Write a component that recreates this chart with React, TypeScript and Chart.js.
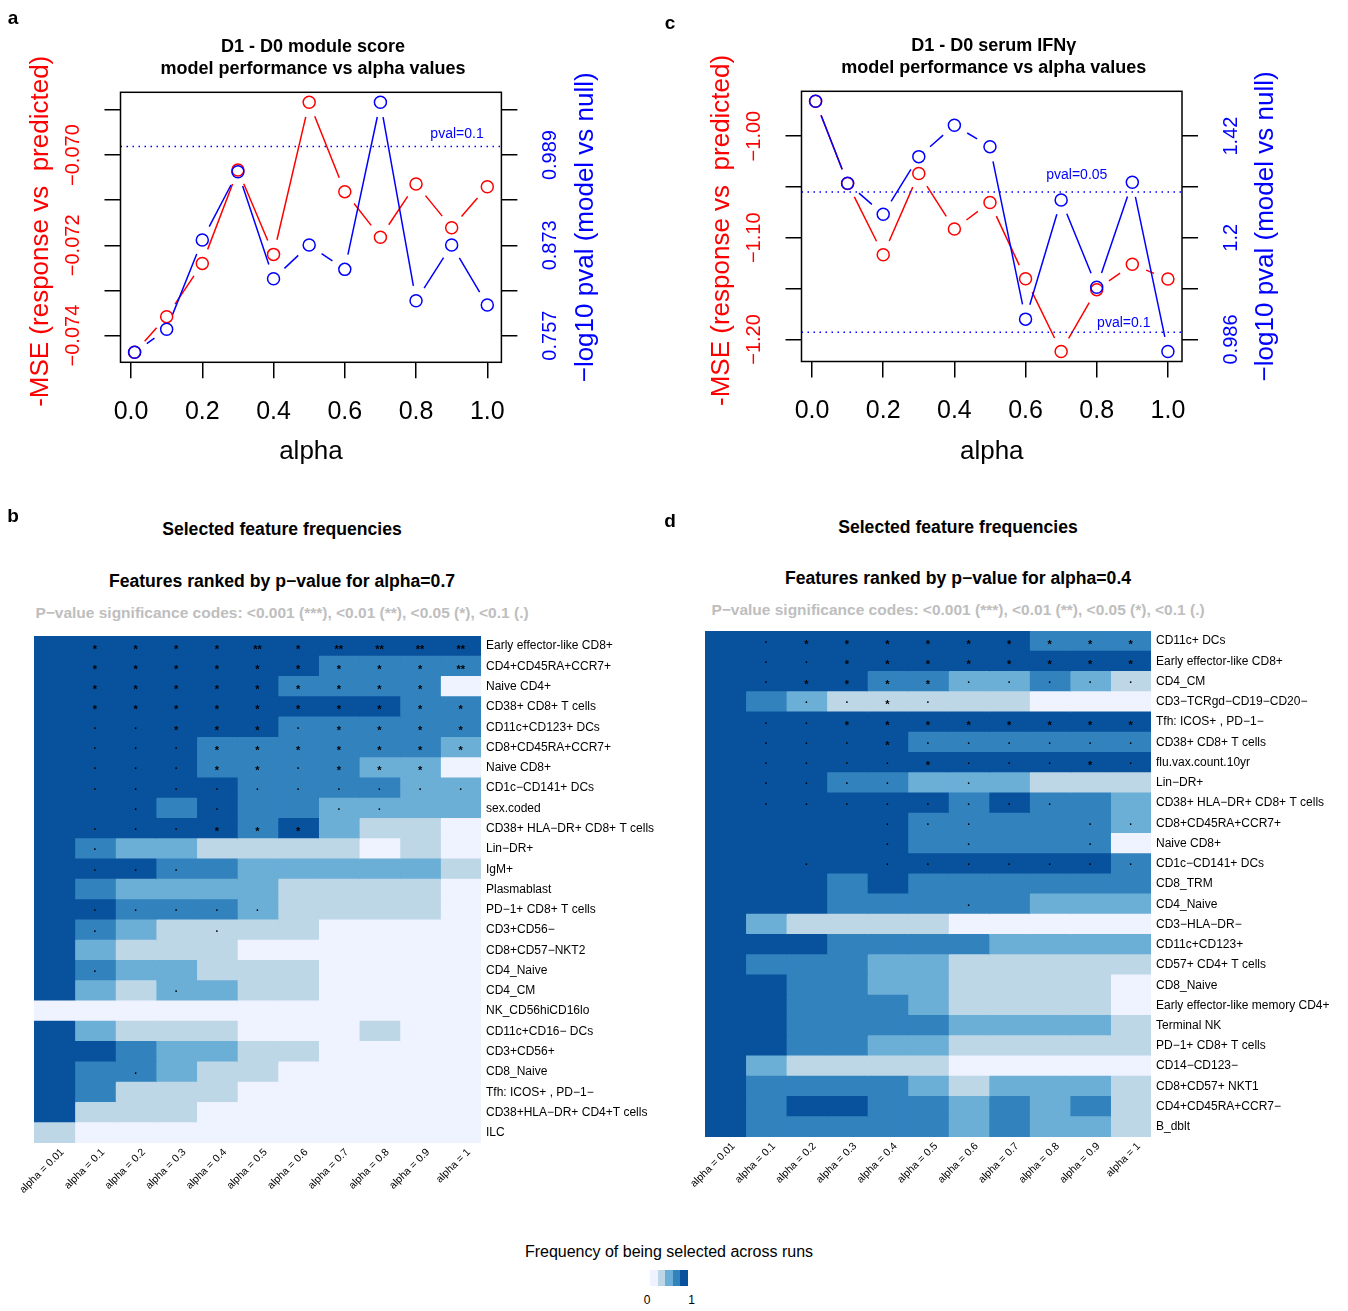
import React, { useEffect, useRef } from "react";
import { Chart, registerables } from "chart.js";
Chart.register(...registerables);

const FONT = "'Liberation Sans', Arial, Helvetica, sans-serif";
const RED = "#FF0000";
const BLUE = "#0000FF";

// ---------- line panels (a, c) ----------
const alphaValues = [0.01, 0.1, 0.2, 0.3, 0.4, 0.5, 0.6, 0.7, 0.8, 0.9, 1.0];
const xTickValues = [0, 0.2, 0.4, 0.6, 0.8, 1.0];

const aMse = [-0.07437, -0.07358, -0.0724, -0.07033, -0.0722, -0.06883, -0.07081, -0.07182, -0.07064, -0.07161, -0.0707];
const aLogP = [0.7357, 0.7652, 0.8799, 0.9676, 0.8302, 0.8734, 0.8422, 1.0567, 0.8019, 0.8734, 0.7964];
const aLeftTicks = [-0.074, -0.073, -0.072, -0.071, -0.07, -0.069];
const aLeftLabels = ["−0.074", "", "−0.072", "", "−0.070", ""];
const aRightLabels = ["0.757", "", "0.873", "", "0.989", ""];
const aPvals = [0.1];
const aPvalTexts = ["pval=0.1"];

const cMse = [-0.9658, -1.0466, -1.1166, -1.0367, -1.0913, -1.0653, -1.1402, -1.2118, -1.151, -1.1261, -1.1406];
const cLogP = [1.4956, 1.3198, 1.2534, 1.3769, 1.4442, 1.3983, 1.0282, 1.284, 1.0968, 1.322, 0.9588];
const cLeftTicks = [-1.2, -1.15, -1.1, -1.05, -1.0];
const cLeftLabels = ["−1.20", "", "−1.10", "", "−1.00"];
const cRightLabels = ["0.986", "", "1.2", "", "1.42"];
const cPvals = [0.1, 0.05];
const cPvalTexts = ["pval=0.1", "pval=0.05"];

// ---------- heatmaps (b, d) ----------
const palette = ["#EFF3FF", "#BDD7E7", "#6BAED6", "#3182BD", "#08519C"];
const alphaLabels = ["alpha = 0.01", "alpha = 0.1", "alpha = 0.2", "alpha = 0.3", "alpha = 0.4", "alpha = 0.5", "alpha = 0.6", "alpha = 0.7", "alpha = 0.8", "alpha = 0.9", "alpha = 1"];

const bRows = ["Early effector-like CD8+", "CD4+CD45RA+CCR7+", "Naive CD4+", "CD38+ CD8+ T cells", "CD11c+CD123+ DCs", "CD8+CD45RA+CCR7+", "Naive CD8+", "CD1c−CD141+ DCs", "sex.coded", "CD38+ HLA−DR+ CD8+ T cells", "Lin−DR+", "IgM+", "Plasmablast", "PD−1+ CD8+ T cells", "CD3+CD56−", "CD8+CD57−NKT2", "CD4_Naive", "CD4_CM", "NK_CD56hiCD16lo", "CD11c+CD16− DCs", "CD3+CD56+", "CD8_Naive", "Tfh: ICOS+ , PD−1−", "CD38+HLA−DR+ CD4+T cells", "ILC"];
const bLevels = [
  [4, 4, 4, 4, 4, 4, 4, 4, 4, 4, 4],
  [4, 4, 4, 4, 4, 4, 4, 3, 3, 3, 3],
  [4, 4, 4, 4, 4, 4, 3, 3, 3, 3, 0],
  [4, 4, 4, 4, 4, 4, 4, 4, 4, 3, 3],
  [4, 4, 4, 4, 4, 4, 3, 3, 3, 3, 3],
  [4, 4, 4, 4, 3, 3, 3, 3, 3, 3, 2],
  [4, 4, 4, 4, 3, 3, 3, 3, 2, 2, 0],
  [4, 4, 4, 4, 4, 3, 3, 3, 3, 2, 2],
  [4, 4, 4, 3, 4, 3, 3, 2, 2, 2, 2],
  [4, 4, 4, 4, 4, 3, 4, 2, 1, 1, 0],
  [4, 3, 2, 2, 1, 1, 1, 1, 0, 1, 0],
  [4, 4, 4, 3, 3, 2, 2, 2, 2, 2, 1],
  [4, 3, 2, 2, 2, 2, 1, 1, 1, 1, 0],
  [4, 4, 3, 3, 3, 2, 1, 1, 1, 1, 0],
  [4, 3, 2, 1, 1, 1, 1, 0, 0, 0, 0],
  [4, 2, 1, 1, 1, 0, 0, 0, 0, 0, 0],
  [4, 3, 2, 2, 1, 1, 1, 0, 0, 0, 0],
  [4, 2, 1, 2, 2, 1, 1, 0, 0, 0, 0],
  [0, 0, 0, 0, 0, 0, 0, 0, 0, 0, 0],
  [4, 2, 1, 1, 1, 0, 0, 0, 1, 0, 0],
  [4, 4, 3, 2, 2, 1, 1, 0, 0, 0, 0],
  [4, 3, 3, 2, 1, 1, 0, 0, 0, 0, 0],
  [4, 3, 1, 1, 1, 0, 0, 0, 0, 0, 0],
  [4, 1, 1, 1, 0, 0, 0, 0, 0, 0, 0],
  [1, 0, 0, 0, 0, 0, 0, 0, 0, 0, 0],
];
const bMarks = [
  "_ * * * * ** * ** ** ** **",
  "_ * * * * * * * * * **",
  "_ * * * * * * * * * _",
  "_ * * * * * * * * * *",
  "_ . . * * * . * * * *",
  "_ . . . * * * * * * *",
  "_ . . . * * . * * * _",
  "_ . . . . . . . . . .",
  "_ _ . _ . _ _ . . _ _",
  "_ . . . * * * _ _ _ _",
  "_ . _ _ _ _ _ _ _ _ _",
  "_ . . . _ _ _ _ _ _ _",
  "_ _ _ _ _ _ _ _ _ _ _",
  "_ . . . . . _ _ _ _ _",
  "_ . _ _ . _ _ _ _ _ _",
  "_ _ _ _ _ _ _ _ _ _ _",
  "_ . _ _ _ _ _ _ _ _ _",
  "_ _ _ . _ _ _ _ _ _ _",
  "_ _ _ _ _ _ _ _ _ _ _",
  "_ _ _ _ _ _ _ _ _ _ _",
  "_ _ _ _ _ _ _ _ _ _ _",
  "_ _ . _ _ _ _ _ _ _ _",
  "_ _ _ _ _ _ _ _ _ _ _",
  "_ _ _ _ _ _ _ _ _ _ _",
  "_ _ _ _ _ _ _ _ _ _ _",
];

const dRows = ["CD11c+ DCs", "Early effector-like CD8+", "CD4_CM", "CD3−TCRgd−CD19−CD20−", "Tfh: ICOS+ , PD−1−", "CD38+ CD8+ T cells", "flu.vax.count.10yr", "Lin−DR+", "CD38+ HLA−DR+ CD8+ T cells", "CD8+CD45RA+CCR7+", "Naive CD8+", "CD1c−CD141+ DCs", "CD8_TRM", "CD4_Naive", "CD3−HLA−DR−", "CD11c+CD123+", "CD57+ CD4+ T cells", "CD8_Naive", "Early effector-like memory CD4+", "Terminal NK", "PD−1+ CD8+ T cells", "CD14−CD123−", "CD8+CD57+ NKT1", "CD4+CD45RA+CCR7−", "B_dblt"];
const dLevels = [
  [4, 4, 4, 4, 4, 4, 4, 4, 3, 3, 3],
  [4, 4, 4, 4, 4, 4, 4, 4, 4, 4, 4],
  [4, 4, 4, 4, 3, 3, 2, 2, 3, 2, 1],
  [4, 3, 2, 1, 1, 1, 1, 1, 0, 0, 0],
  [4, 4, 4, 4, 4, 4, 4, 4, 4, 4, 4],
  [4, 4, 4, 4, 4, 3, 3, 3, 3, 3, 3],
  [4, 4, 4, 4, 4, 4, 4, 4, 4, 4, 4],
  [4, 4, 4, 3, 3, 2, 2, 2, 1, 1, 1],
  [4, 4, 4, 4, 4, 4, 3, 4, 3, 3, 2],
  [4, 4, 4, 4, 4, 3, 3, 3, 3, 3, 2],
  [4, 4, 4, 4, 4, 3, 3, 3, 3, 3, 0],
  [4, 4, 4, 4, 4, 4, 4, 4, 4, 4, 3],
  [4, 4, 4, 3, 4, 3, 3, 3, 3, 3, 3],
  [4, 4, 4, 3, 3, 3, 3, 3, 2, 2, 2],
  [4, 2, 1, 1, 1, 1, 0, 0, 0, 0, 0],
  [4, 4, 4, 3, 3, 3, 3, 2, 2, 2, 2],
  [4, 3, 3, 3, 2, 2, 1, 1, 1, 1, 1],
  [4, 4, 3, 3, 2, 2, 1, 1, 1, 1, 0],
  [4, 4, 3, 3, 3, 2, 1, 1, 1, 1, 0],
  [4, 4, 3, 3, 3, 3, 2, 2, 2, 2, 1],
  [4, 4, 3, 3, 2, 2, 1, 1, 1, 1, 1],
  [4, 2, 1, 1, 1, 1, 0, 0, 0, 0, 0],
  [4, 3, 3, 3, 3, 2, 1, 2, 2, 2, 1],
  [4, 3, 4, 4, 3, 3, 2, 3, 2, 3, 1],
  [4, 3, 3, 3, 3, 3, 2, 3, 2, 2, 1],
];
const dMarks = [
  "_ . * * * * * * * * *",
  "_ . . * * * * * * * *",
  "_ . * * * * . . . . .",
  "_ _ . . * . _ _ _ _ _",
  "_ . . * * * * * * * *",
  "_ . . . * . . . . . .",
  "_ . . . . * . . . * .",
  "_ . . . . _ . _ _ _ _",
  "_ . . . . . . . . _ _",
  "_ _ _ _ . . . _ _ . .",
  "_ _ _ _ . _ . _ _ . _",
  "_ _ . _ . . . . . . .",
  "_ _ _ _ _ _ _ _ _ _ _",
  "_ _ _ _ _ _ . _ _ _ _",
  "_ _ _ _ _ _ _ _ _ _ _",
  "_ _ _ _ _ _ _ _ _ _ _",
  "_ _ _ _ _ _ _ _ _ _ _",
  "_ _ _ _ _ _ _ _ _ _ _",
  "_ _ _ _ _ _ _ _ _ _ _",
  "_ _ _ _ _ _ _ _ _ _ _",
  "_ _ _ _ _ _ _ _ _ _ _",
  "_ _ _ _ _ _ _ _ _ _ _",
  "_ _ _ _ _ _ _ _ _ _ _",
  "_ _ _ _ _ _ _ _ _ _ _",
  "_ _ _ _ _ _ _ _ _ _ _",
];

const legendLabels = ["0", "1"];

// ---------- helpers ----------
function rRange(vals: number[]): [number, number] {
  const mn = Math.min(...vals);
  const mx = Math.max(...vals);
  const d = (mx - mn) * 0.04;
  return [mn - d, mx + d];
}
function parseMarks(s: string): string[] {
  return s.split(" ").map((t) => (t === "_" ? "" : t));
}

const GAP = 15; // R type="b": line segments stop short of the symbols

// draws the connecting segments of datasets flagged gapLine, using the
// element positions computed by Chart.js from the scales (last dataset first)
const gapLinesPlugin = {
  id: "gapLines",
  beforeDatasetsDraw(chart: any) {
    const ctx = chart.ctx;
    ctx.save();
    const sets = chart.data.datasets;
    for (let i = sets.length - 1; i >= 0; i--) {
      const ds = sets[i];
      if (!ds.gapLine) continue;
      const pts = chart.getDatasetMeta(i).data;
      ctx.strokeStyle = ds.borderColor;
      ctx.lineWidth = ds.borderWidth;
      ctx.beginPath();
      for (let j = 0; j < pts.length - 1; j++) {
        const p = pts[j];
        const q = pts[j + 1];
        const dx = q.x - p.x;
        const dy = q.y - p.y;
        const d = Math.hypot(dx, dy);
        if (d <= 2 * GAP) continue;
        const ux = dx / d;
        const uy = dy / d;
        ctx.moveTo(p.x + ux * GAP, p.y + uy * GAP);
        ctx.lineTo(q.x - ux * GAP, q.y - uy * GAP);
      }
      ctx.stroke();
    }
    ctx.restore();
  },
};

type LineSpec = {
  width: number;
  height: number;
  area: { left: number; top: number; right: number; bottom: number };
  title: [string, string];
  mse: number[];
  logp: number[];
  leftTicks: number[];
  leftLabels: string[];
  rightLabels: string[];
  pvals: number[];
  pvalTexts: string[];
  pvalTextPos: { x: number; dy: number }[];
};

function makeLineChart(canvas: HTMLCanvasElement, s: LineSpec) {
  const xr = rRange(alphaValues);
  const lr = rRange(s.mse);
  const rr = rRange(s.logp);
  const tickGrid = { display: true, drawOnChartArea: false, drawTicks: true, tickLength: 16, color: "#000", lineWidth: 1.5 };
  const decor = {
    id: "decor",
    afterDraw(chart: any) {
      const { ctx, chartArea: a, scales } = chart;
      const ys = scales.y;
      ctx.save();
      ctx.strokeStyle = "#000";
      ctx.lineWidth = 1.5;
      ctx.strokeRect(a.left, a.top, a.right - a.left, a.bottom - a.top);
      const cx = (a.left + a.right) / 2;
      const cy = (a.top + a.bottom) / 2;
      ctx.fillStyle = "#000";
      ctx.textAlign = "center";
      ctx.textBaseline = "middle";
      ctx.font = `bold 18px ${FONT}`;
      ctx.fillText(s.title[0], cx + 2, a.top - 45.5);
      ctx.fillText(s.title[1], cx + 2, a.top - 23.5);
      ctx.font = `26px ${FONT}`;
      ctx.fillText("alpha", cx, a.bottom + 90);
      const rot = (text: string, x: number, y: number, font: string, color: string) => {
        ctx.save();
        ctx.translate(x, y);
        ctx.rotate(-Math.PI / 2);
        ctx.font = font;
        ctx.fillStyle = color;
        ctx.textAlign = "center";
        ctx.textBaseline = "middle";
        ctx.fillText(text, 0, 0);
        ctx.restore();
      };
      s.leftTicks.forEach((v, i) => {
        const y = ys.getPixelForValue(v);
        if (s.leftLabels[i]) rot(s.leftLabels[i], a.left - 47, y, `20px ${FONT}`, RED);
        if (s.rightLabels[i]) rot(s.rightLabels[i], a.right + 49, y, `20px ${FONT}`, BLUE);
      });
      rot("-MSE (response vs  predicted)", a.left - 80, cy + 4, `26px ${FONT}`, RED);
      rot("−log10 pval (model vs null)", a.right + 84, cy, `26px ${FONT}`, BLUE);
      ctx.font = `14px ${FONT}`;
      ctx.fillStyle = BLUE;
      s.pvals.forEach((p, i) => {
        const pos = s.pvalTextPos[i];
        const x = scales.x.getPixelForValue(pos.x);
        const y = scales.y1.getPixelForValue(-Math.log10(p)) + pos.dy;
        ctx.fillText(s.pvalTexts[i], x, y);
      });
      ctx.restore();
    },
  };
  const pvalSets = s.pvals.map((p) => ({
    type: "line" as const,
    data: [
      { x: xr[0], y: -Math.log10(p) },
      { x: xr[1], y: -Math.log10(p) },
    ],
    yAxisID: "y1",
    borderColor: BLUE,
    borderWidth: 1.5,
    borderDash: [1.5, 4.5],
    pointRadius: 0,
    fill: false,
  }));
  return new Chart(canvas, {
    type: "scatter",
    data: {
      datasets: [
        {
          data: alphaValues.map((x, i) => ({ x, y: s.logp[i] })),
          yAxisID: "y1",
          showLine: false,
          gapLine: true,
          borderColor: BLUE,
          borderWidth: 1.5,
          pointRadius: 6,
          pointBorderWidth: 1.5,
          pointBorderColor: BLUE,
          pointBackgroundColor: "rgba(0,0,0,0)",
        },
        {
          data: alphaValues.map((x, i) => ({ x, y: s.mse[i] })),
          yAxisID: "y",
          showLine: false,
          gapLine: true,
          borderColor: RED,
          borderWidth: 1.5,
          pointRadius: 6,
          pointBorderWidth: 1.5,
          pointBorderColor: RED,
          pointBackgroundColor: "rgba(0,0,0,0)",
        },
        ...pvalSets,
      ] as any,
    },
    options: {
      animation: false,
      responsive: false,
      devicePixelRatio: 1,
      layout: {
        padding: {
          left: s.area.left - 16,
          right: s.width - s.area.right - 16,
          top: s.area.top,
          bottom: s.height - s.area.bottom - 70,
        },
      },
      plugins: { legend: { display: false }, tooltip: { enabled: false } },
      scales: {
        x: {
          type: "linear",
          position: "bottom",
          min: xr[0],
          max: xr[1],
          afterBuildTicks: (sc: any) => {
            sc.ticks = xTickValues.map((v) => ({ value: v }));
          },
          afterFit: (sc: any) => {
            sc.height = 70;
            sc.paddingLeft = 0;
            sc.paddingRight = 0;
          },
          grid: tickGrid,
          border: { display: false },
          ticks: {
            autoSkip: false,
            maxRotation: 0,
            minRotation: 0,
            padding: 19,
            color: "#000",
            font: { family: FONT, size: 25 },
            callback: (v: any) => Number(v).toFixed(1),
          },
        },
        y: {
          type: "linear",
          position: "left",
          min: lr[0],
          max: lr[1],
          afterBuildTicks: (sc: any) => {
            sc.ticks = s.leftTicks.map((v) => ({ value: v }));
          },
          afterFit: (sc: any) => {
            sc.width = 16;
            sc.paddingTop = 0;
            sc.paddingBottom = 0;
          },
          grid: tickGrid,
          border: { display: false },
          ticks: { display: false },
        },
        y1: {
          type: "linear",
          position: "right",
          min: rr[0],
          max: rr[1],
          afterBuildTicks: (sc: any) => {
            sc.ticks = s.leftTicks.map((v) => ({
              value: rr[0] + ((v - lr[0]) / (lr[1] - lr[0])) * (rr[1] - rr[0]),
            }));
          },
          afterFit: (sc: any) => {
            sc.width = 16;
            sc.paddingTop = 0;
            sc.paddingBottom = 0;
          },
          grid: tickGrid,
          border: { display: false },
          ticks: { display: false },
        },
      },
    } as any,
    plugins: [gapLinesPlugin, decor],
  });
}

type HeatSpec = {
  width: number;
  height: number;
  padLeft: number;
  areaW: number;
  areaH: number;
  rows: string[];
  levels: number[][];
  marks: string[];
};

function makeHeatmap(canvas: HTMLCanvasElement, s: HeatSpec) {
  const marks = s.marks.map(parseMarks);
  const shift = 0.2;
  const markPlugin = {
    id: "marks",
    afterDatasetsDraw(chart: any) {
      const { ctx, scales } = chart;
      ctx.save();
      ctx.fillStyle = "#000";
      ctx.textAlign = "center";
      ctx.textBaseline = "alphabetic";
      marks.forEach((row, r) =>
        row.forEach((m, c) => {
          if (!m) return;
          const x = scales.x.getPixelForValue(c + 0.5);
          const y = scales.y.getPixelForValue(r);
          if (m === ".") {
            ctx.font = `bold 10px ${FONT}`;
            ctx.fillText(m, x, y + 1.5);
          } else {
            ctx.font = `bold 11px ${FONT}`;
            ctx.fillText(m, x, y + 6.5);
          }
        })
      );
      ctx.restore();
    },
  };
  return new Chart(canvas, {
    type: "bar",
    data: {
      labels: s.rows,
      datasets: alphaLabels.map((lab, c) => ({
        label: lab,
        data: s.rows.map(() => [c, c + 1]),
        backgroundColor: s.rows.map((_, r) => palette[s.levels[r][c]]),
        borderWidth: 0,
        barPercentage: 1,
        categoryPercentage: 1,
        grouped: false,
        inflateAmount: 0.5,
      })) as any,
    },
    options: {
      indexAxis: "y",
      animation: false,
      responsive: false,
      devicePixelRatio: 1,
      layout: { padding: { left: s.padLeft, top: 0, right: 0, bottom: 0 } },
      plugins: { legend: { display: false }, tooltip: { enabled: false } },
      scales: {
        x: {
          type: "linear",
          position: "bottom",
          min: 0,
          max: alphaLabels.length,
          afterBuildTicks: (sc: any) => {
            sc.ticks = alphaLabels.map((_, c) => ({ value: c + 0.5 + shift }));
          },
          afterFit: (sc: any) => {
            sc.height = s.height - s.areaH;
            sc.paddingLeft = 0;
            sc.paddingRight = 0;
          },
          grid: { display: false, drawTicks: false },
          border: { display: false },
          ticks: {
            autoSkip: false,
            minRotation: 45,
            maxRotation: 45,
            padding: 3,
            color: "#000",
            font: { family: FONT, size: 10.5 },
            callback: (v: any) => alphaLabels[Math.floor(Number(v))],
          },
        },
        y: {
          type: "category",
          position: "right",
          offset: true,
          afterFit: (sc: any) => {
            sc.width = s.width - s.padLeft - s.areaW;
            sc.paddingTop = 0;
            sc.paddingBottom = 0;
          },
          grid: { display: false, drawTicks: false },
          border: { display: false },
          ticks: {
            autoSkip: false,
            padding: 5,
            color: "#000",
            font: { family: FONT, size: 12 },
          },
        },
      },
    } as any,
    plugins: [markPlugin],
  });
}

function ChartCanvas(props: { left: number; top: number; width: number; height: number; make: (c: HTMLCanvasElement) => Chart }) {
  const ref = useRef<HTMLCanvasElement>(null);
  useEffect(() => {
    const chart = props.make(ref.current as HTMLCanvasElement);
    return () => chart.destroy();
  }, []);
  return (
    <canvas
      ref={ref}
      width={props.width}
      height={props.height}
      style={{ position: "absolute", left: props.left, top: props.top, width: props.width, height: props.height }}
    />
  );
}

function Txt(props: { x: number; y: number; size: number; bold?: boolean; color?: string; text: string }) {
  return (
    <div
      style={{
        position: "absolute",
        left: props.x,
        top: props.y,
        transform: "translate(-50%, -50%)",
        fontFamily: FONT,
        fontSize: props.size,
        fontWeight: props.bold ? 700 : 400,
        color: props.color || "#000",
        whiteSpace: "nowrap",
        lineHeight: 1,
      }}
    >
      {props.text}
    </div>
  );
}

const sigText = "P−value significance codes:  <0.001 (***), <0.01 (**), <0.05 (*), <0.1 (.)";

export default function App() {
  const specA: LineSpec = {
    width: 660,
    height: 480,
    area: { left: 120.5, top: 92.3, right: 501.4, bottom: 362.3 },
    title: ["D1 - D0 module score", "model performance vs alpha values"],
    mse: aMse,
    logp: aLogP,
    leftTicks: aLeftTicks,
    leftLabels: aLeftLabels,
    rightLabels: aRightLabels,
    pvals: aPvals,
    pvalTexts: aPvalTexts,
    pvalTextPos: [{ x: 0.915, dy: -12 }],
  };
  const specC: LineSpec = {
    width: 688,
    height: 480,
    area: { left: 141.5, top: 91.3, right: 522, bottom: 361.5 },
    title: ["D1 - D0 serum IFNγ", "model performance vs alpha values"],
    mse: cMse,
    logp: cLogP,
    leftTicks: cLeftTicks,
    leftLabels: cLeftLabels,
    rightLabels: cRightLabels,
    pvals: cPvals,
    pvalTexts: cPvalTexts,
    pvalTextPos: [
      { x: 0.876, dy: -9.5 },
      { x: 0.744, dy: -17 },
    ],
  };
  const specB: HeatSpec = { width: 656, height: 582, padLeft: 30, areaW: 447, areaH: 507, rows: bRows, levels: bLevels, marks: bMarks };
  const specD: HeatSpec = { width: 673, height: 582, padLeft: 30, areaW: 446, areaH: 506, rows: dRows, levels: dLevels, marks: dMarks };

  return (
    <div style={{ position: "absolute", left: 0, top: 0, width: 1348, height: 1311, background: "#fff", overflow: "hidden" }}>
      <ChartCanvas left={0} top={0} width={660} height={480} make={(c) => makeLineChart(c, specA)} />
      <ChartCanvas left={660} top={0} width={688} height={480} make={(c) => makeLineChart(c, specC)} />
      <ChartCanvas left={4} top={636} width={656} height={582} make={(c) => makeHeatmap(c, specB)} />
      <ChartCanvas left={675} top={631} width={673} height={582} make={(c) => makeHeatmap(c, specD)} />

      <Txt x={13} y={17} size={19} bold text="a" />
      <Txt x={670} y={22} size={19} bold text="c" />
      <Txt x={13} y={515} size={19} bold text="b" />
      <Txt x={670} y={520} size={19} bold text="d" />

      <Txt x={282} y={530} size={17.6} bold text="Selected feature frequencies" />
      <Txt x={282} y={582} size={17.6} bold text="Features ranked by p−value for alpha=0.7" />
      <Txt x={282} y={613} size={15.5} bold color="#BEBEBE" text={sigText} />

      <Txt x={958} y={528} size={17.6} bold text="Selected feature frequencies" />
      <Txt x={958} y={579} size={17.6} bold text="Features ranked by p−value for alpha=0.4" />
      <Txt x={958} y={610} size={15.5} bold color="#BEBEBE" text={sigText} />

      <Txt x={669} y={1252} size={16} text="Frequency of being selected across runs" />
      {palette.map((col, i) => (
        <div key={i} style={{ position: "absolute", left: 650 + i * 7.5, top: 1270, width: 7.5, height: 16, background: col }} />
      ))}
      <Txt x={647} y={1300} size={12} text={legendLabels[0]} />
      <Txt x={691.5} y={1300} size={12} text={legendLabels[1]} />
    </div>
  );
}
